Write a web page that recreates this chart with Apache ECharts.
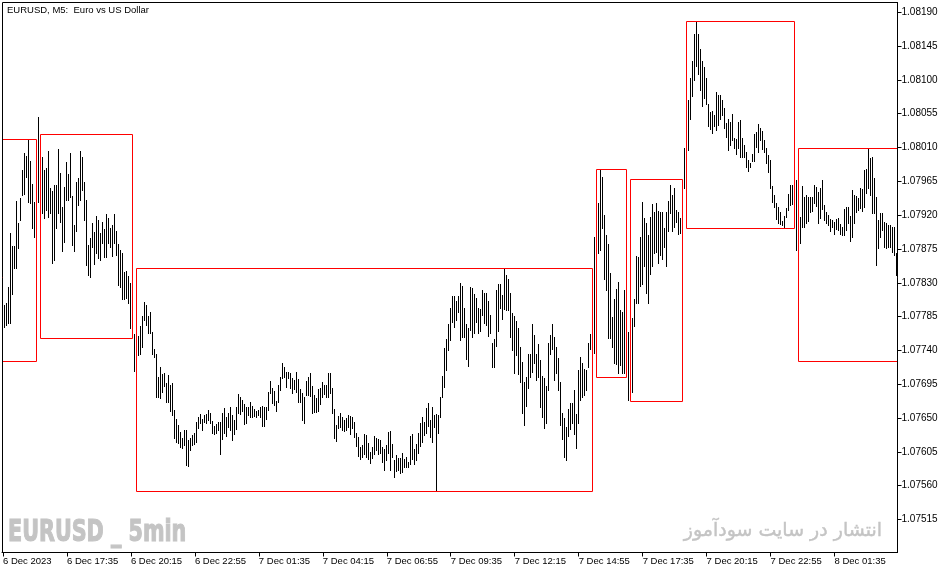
<!DOCTYPE html>
<html>
<head>
<meta charset="utf-8">
<script src="https://cdn.jsdelivr.net/npm/echarts@6/dist/echarts.min.js"></script>
<style>
html,body{margin:0;padding:0;background:#fff;}
#c{width:951px;height:574px;}
</style>
</head>
<body>
<div id="c"></div>
<script>
// ---- DATA ----
const startTime = '2023-12-06T14:55:00Z';
const barCount = 448;
const tickLabels = ['6 Dec 2023','6 Dec 17:35','6 Dec 20:15','6 Dec 22:55','7 Dec 01:35','7 Dec 04:15','7 Dec 06:55','7 Dec 09:35','7 Dec 12:15','7 Dec 14:55','7 Dec 17:35','7 Dec 20:15','7 Dec 22:55','8 Dec 01:35'];
const yTicks = [1.07515,1.07560,1.07605,1.07650,1.07695,1.07740,1.07785,1.07830,1.07875,1.07920,1.07965,1.08010,1.08055,1.08100,1.08145,1.08190];

const highs = [
null,1.07800,1.07802,1.07824,1.07896,1.07878,1.07878,1.07938,1.07909,1.07942,1.07979,1.08002,1.07998,1.08021,1.07991,1.07961,
1.07937,null,1.08050,null,1.07997,1.07979,1.07982,1.08005,1.07955,1.07951,1.07959,1.07959,1.08007,1.07975,1.07930,1.07957,
1.07990,1.07974,1.08002,1.07945,1.07906,1.07963,1.07969,1.08005,1.07997,1.07963,1.07939,1.07880,1.07889,1.07909,1.07897,1.07918,
1.07913,1.07896,1.07910,1.07901,1.07921,1.07916,1.07902,1.07906,1.07921,1.07898,1.07881,1.07873,1.07869,1.07844,1.07845,1.07838,
1.07829,null,1.07761,null,1.07758,1.07772,1.07785,1.07804,1.07800,1.07785,1.07790,1.07764,1.07741,1.07735,1.07704,1.07717,
1.07708,1.07709,1.07696,1.07707,1.07693,1.07696,1.07660,1.07648,1.07640,1.07631,1.07623,1.07633,1.07633,1.07620,1.07623,1.07627,
1.07629,1.07644,1.07651,1.07655,1.07648,1.07653,1.07655,1.07660,1.07656,1.07645,1.07639,1.07641,1.07644,1.07644,1.07656,1.07663,
1.07651,1.07656,1.07664,1.07653,1.07647,1.07664,1.07681,1.07677,1.07673,1.07668,1.07664,1.07664,1.07671,1.07665,1.07661,1.07659,
1.07660,1.07664,1.07665,1.07664,1.07664,1.07684,1.07699,1.07689,1.07685,1.07672,1.07693,1.07704,1.07723,1.07717,1.07711,1.07711,
1.07709,1.07703,1.07700,1.07711,1.07701,1.07688,1.07683,1.07677,1.07699,1.07704,1.07709,1.07692,1.07680,1.07676,1.07688,1.07689,
1.07697,1.07693,1.07693,1.07709,1.07709,1.07689,1.07661,1.07640,1.07652,1.07656,1.07651,1.07647,1.07649,1.07653,1.07652,1.07651,
1.07644,1.07629,1.07624,1.07611,1.07613,1.07628,1.07627,1.07616,1.07604,1.07611,1.07625,1.07623,1.07621,1.07620,1.07611,1.07608,
1.07613,1.07631,1.07632,1.07615,1.07593,1.07600,1.07596,1.07596,1.07603,1.07595,1.07597,1.07591,1.07625,1.07628,1.07608,1.07615,
1.07629,1.07643,1.07651,1.07644,1.07663,1.07669,1.07647,1.07664,1.07653,1.07655,1.07653,1.07677,1.07705,1.07743,1.07754,1.07774,
1.07796,1.07812,1.07812,1.07805,1.07812,1.07829,1.07825,1.07796,1.07774,1.07769,1.07824,1.07822,1.07814,1.07809,1.07796,1.07794,
1.07820,1.07816,1.07816,1.07805,1.07786,1.07749,1.07754,1.07820,1.07828,1.07828,1.07813,1.07849,1.07840,1.07834,1.07816,1.07789,
1.07785,1.07778,1.07769,1.07744,1.07724,1.07697,1.07704,1.07735,1.07735,1.07774,1.07760,1.07735,1.07748,1.07727,1.07705,1.07703,
1.07692,1.07749,1.07760,1.07774,1.07757,1.07744,1.07729,1.07697,1.07656,1.07649,1.07637,1.07661,1.07669,1.07669,1.07687,1.07655,
1.07713,1.07731,1.07723,1.07715,1.07713,1.07749,1.07761,null,1.07890,null,1.07935,1.07981,1.07970,1.07920,1.07893,1.07881,
1.07842,1.07784,1.07808,1.07821,1.07830,1.07793,1.07790,1.07820,null,1.07764,null,1.07782,1.07808,1.07865,1.07864,1.07890,
1.07937,1.07916,1.07909,1.07893,1.07917,1.07934,1.07924,1.07935,1.07925,1.07924,1.07924,1.07902,1.07924,1.07938,1.07959,1.07946,
1.07955,1.07926,1.07924,1.07916,null,1.08009,null,1.08073,1.08102,1.08124,1.08160,1.08176,1.08160,1.08140,1.08124,1.08116,
1.08102,1.08067,1.08057,1.08058,1.08053,1.08083,1.08079,1.08079,1.08073,1.08062,1.08042,1.08047,1.08043,1.08054,1.08022,1.08021,
1.08043,1.08046,1.08022,1.08013,1.08003,1.07993,1.07989,1.08001,1.08027,1.08030,1.08041,1.08035,1.08031,1.08019,1.08009,1.07999,
1.07993,1.07958,1.07946,1.07935,1.07930,1.07924,1.07912,1.07918,1.07929,1.07947,1.07959,1.07959,null,1.07966,null,1.07917,
1.07958,1.07943,1.07946,1.07943,1.07943,1.07943,1.07959,1.07957,1.07950,1.07955,1.07966,1.07933,1.07924,1.07920,1.07914,1.07913,
1.07910,1.07914,1.07916,1.07908,1.07904,1.07928,1.07930,1.07930,1.07918,1.07953,1.07946,1.07945,1.07942,1.07955,1.07954,1.07979,
1.07981,1.08009,1.07995,1.07997,1.07969,1.07943,1.07913,1.07922,1.07922,1.07910,1.07909,1.07906,1.07906,1.07904,1.07904,1.07869
];

const lows = [
null,1.07770,1.07773,1.07776,1.07776,1.07814,1.07849,1.07849,1.07876,1.07913,1.07946,1.07947,1.07970,1.07937,1.07935,1.07902,
1.07890,null,1.07937,null,1.07922,1.07916,1.07926,1.07917,1.07922,1.07856,1.07860,1.07902,1.07922,1.07910,1.07872,1.07884,
1.07939,1.07939,1.07943,1.07880,1.07872,1.07898,1.07933,1.07939,1.07953,1.07913,1.07853,1.07840,1.07837,1.07877,1.07854,1.07869,
1.07862,1.07860,1.07882,1.07864,1.07864,1.07882,1.07877,1.07865,1.07882,1.07866,1.07826,1.07824,1.07808,1.07808,1.07809,1.07802,
1.07769,null,1.07712,null,1.07733,1.07735,1.07744,1.07780,1.07773,1.07762,1.07762,1.07735,1.07731,1.07677,1.07677,1.07676,
1.07684,1.07692,1.07671,1.07671,1.07659,1.07653,1.07623,1.07617,1.07616,1.07611,1.07609,1.07613,1.07587,1.07585,1.07607,1.07613,
1.07615,1.07617,1.07636,1.07643,1.07633,1.07644,1.07643,1.07647,1.07643,1.07629,1.07628,1.07629,1.07633,1.07601,1.07621,1.07629,
1.07625,1.07637,1.07633,1.07620,1.07628,1.07635,1.07656,1.07655,1.07659,1.07641,1.07643,1.07653,1.07651,1.07651,1.07652,1.07651,
1.07653,1.07651,1.07639,1.07639,1.07648,1.07660,1.07683,1.07669,1.07667,1.07659,1.07671,1.07687,1.07703,1.07704,1.07691,1.07703,
1.07689,1.07683,1.07688,1.07684,1.07671,1.07671,1.07647,1.07643,1.07680,1.07680,1.07679,1.07656,1.07657,1.07657,1.07659,1.07668,
1.07677,1.07681,1.07677,1.07677,1.07683,1.07656,1.07623,1.07619,1.07636,1.07637,1.07633,1.07632,1.07633,1.07637,1.07628,1.07636,
1.07624,1.07612,1.07599,1.07595,1.07597,1.07601,1.07597,1.07595,1.07589,1.07596,1.07601,1.07607,1.07601,1.07603,1.07591,1.07580,
1.07593,1.07603,1.07580,1.07597,1.07571,1.07579,1.07580,1.07576,1.07577,1.07584,1.07584,1.07584,1.07588,1.07595,1.07588,1.07593,
1.07603,1.07612,1.07617,1.07627,1.07629,1.07639,1.07624,1.07617,1.07637,1.07554,1.07629,1.07651,1.07677,1.07691,1.07713,1.07740,
1.07753,1.07777,1.07770,1.07780,1.07790,1.07753,1.07757,1.07757,1.07728,1.07719,1.07766,1.07757,1.07762,1.07777,1.07762,1.07765,
1.07786,1.07776,1.07773,1.07758,1.07762,1.07717,1.07717,1.07745,1.07765,1.07796,1.07781,1.07794,1.07793,1.07793,1.07757,1.07740,
1.07709,1.07733,1.07708,1.07697,1.07656,1.07640,1.07665,1.07689,1.07704,1.07711,1.07723,1.07700,1.07704,1.07664,1.07651,1.07636,
1.07643,1.07687,1.07735,1.07741,1.07700,1.07709,1.07687,1.07640,1.07621,1.07597,1.07593,1.07625,1.07635,1.07643,1.07628,1.07609,
1.07643,1.07673,1.07677,1.07680,1.07687,1.07717,1.07741,null,1.07736,null,1.07869,1.07873,1.07902,1.07834,1.07820,1.07756,
1.07756,1.07744,1.07723,1.07721,1.07709,1.07720,1.07709,1.07709,null,1.07673,null,1.07684,1.07772,1.07802,1.07802,1.07825,
1.07828,1.07852,1.07816,1.07802,1.07841,1.07852,1.07869,1.07870,1.07856,1.07866,1.07861,1.07877,1.07852,1.07898,1.07922,1.07898,
1.07904,1.07910,1.07894,1.07896,null,1.07955,null,1.08006,1.08047,1.08078,1.08099,1.08118,1.08107,1.08086,1.08065,1.08075,
1.08067,1.08038,1.08034,1.08029,1.08038,1.08033,1.08039,1.08047,1.08053,1.08035,1.08023,1.08006,1.08013,1.08019,1.08009,1.08001,
1.08009,1.07997,1.07997,1.07997,1.07983,1.07978,1.07983,1.07991,1.07991,1.08010,1.08003,1.08019,1.08007,1.08003,1.07989,1.07977,
1.07955,1.07937,1.07930,1.07914,1.07909,1.07908,1.07906,1.07902,1.07917,1.07926,1.07933,1.07934,null,1.07873,null,1.07882,
1.07904,1.07904,1.07909,1.07912,1.07924,1.07925,1.07935,1.07931,1.07909,1.07916,1.07928,1.07913,1.07909,1.07906,1.07898,1.07904,
1.07894,1.07901,1.07900,1.07894,1.07893,1.07893,1.07900,1.07909,1.07885,1.07890,1.07909,1.07924,1.07926,1.07929,1.07925,1.07930,
1.07949,1.07955,1.07946,1.07922,1.07922,1.07853,1.07876,1.07890,1.07900,1.07877,1.07876,1.07877,1.07877,1.07870,1.07866,1.07840
];

// red range boxes: first bar index, last bar index, upper price, lower price
const boxStart = [0, 19, 67, 297, 314, 342, 398];
const boxEnd   = [17, 65, 295, 312, 340, 396, 448];
const boxHigh  = [1.08021, 1.08027, 1.07849, 1.07981, 1.07967, 1.08178, 1.08009];
const boxLow   = [1.07725, 1.07756, 1.07552, 1.07704, 1.07672, 1.07902, 1.07725];

// ---- BUILD ----
const categories = [];
{
  const t0 = new Date(startTime).getTime();
  const mon = ['Jan','Feb','Mar','Apr','May','Jun','Jul','Aug','Sep','Oct','Nov','Dec'];
  for (let i = 0; i < barCount; i++) {
    const d = new Date(t0 + i * 300000);
    const hh = String(d.getUTCHours()).padStart(2,'0');
    const mm = String(d.getUTCMinutes()).padStart(2,'0');
    categories.push(d.getUTCDate() + ' ' + mon[d.getUTCMonth()] + ' ' + hh + ':' + mm);
  }
}
const barData = [];
for (let i = 0; i < barCount; i++) {
  if (highs[i] != null && lows[i] != null) barData.push([i, highs[i], lows[i]]);
}
const boxData = boxStart.map((s, k) => [s, boxEnd[k], boxHigh[k], boxLow[k]]);

// snap to pixel centres so 1px strokes stay crisp
const snap = (v) => Math.round(v - 0.5) + 0.5;

const FONT = 'Liberation Sans';
const chart = echarts.init(document.getElementById('c'), null, {renderer: 'canvas'});
chart.setOption({
  animation: false,
  backgroundColor: '#ffffff',
  title: {
    text: 'EURUSD, M5:  Euro vs US Dollar',
    left: 7, top: 5, padding: 0,
    textStyle: {fontFamily: FONT, fontSize: 9.5, fontWeight: 'normal', color: '#000'}
  },
  grid: {left: 1.5, top: 2.5, width: 896, height: 550, show: false},
  xAxis: {
    type: 'category',
    data: categories,
    boundaryGap: true,
    axisLine: {show: true, lineStyle: {color: '#000', width: 1}},
    axisTick: {show: true, alignWithLabel: true, length: 4, interval: (i) => i % 32 === 0, lineStyle: {color: '#000'}},
    axisLabel: {
      show: true,
      interval: (i) => i % 32 === 0,
      formatter: (v, i) => tickLabels[Math.round(i / 32)] || '',
      align: 'left', margin: 4,
      fontFamily: FONT, fontSize: 9.5, color: '#000'
    },
    splitLine: {show: false}
  },
  yAxis: {
    type: 'value',
    position: 'right',
    min: 1.07471, max: 1.08203,
    scale: true,
    axisLine: {show: true, lineStyle: {color: '#000', width: 1}},
    axisTick: {show: true, length: 4, customValues: yTicks, lineStyle: {color: '#000'}},
    axisLabel: {
      show: true, customValues: yTicks,
      formatter: (v) => Number(v).toFixed(5),
      margin: 4, fontFamily: FONT, fontSize: 10, color: '#000'
    },
    splitLine: {show: false}
  },
  graphic: [
    {type: 'rect', silent: true, z: 100,
     shape: {x: 2.5, y: 2.5, width: 895, height: 550},
     style: {fill: null, stroke: '#000', lineWidth: 1}},
    {type: 'text', silent: true, x: 8, y: 518, scaleX: 0.69, z: 1,
     style: {text: 'EURUSD _ 5min', font: 'bold 30px "DejaVu Sans"', fill: '#c4c4c4', stroke: '#c4c4c4', lineWidth: 1.2, textVerticalAlign: 'top'}},
    {type: 'text', silent: true, x: 882, y: 531, z: 1,
     style: {text: 'انتشار در سایت سودآموز', font: '19px "DejaVu Sans"', fill: '#c4c4c4', stroke: '#c4c4c4', lineWidth: 0.4, textAlign: 'right', textVerticalAlign: 'middle'}}
  ],
  series: [
    {
      type: 'custom',
      name: 'EURUSD',
      data: barData,
      encode: {x: 0, y: [1, 2]},
      clip: true,
      z: 2,
      renderItem: function (params, api) {
        const i = api.value(0);
        const p1 = api.coord([i, api.value(1)]);
        const p2 = api.coord([i, api.value(2)]);
        const x = snap(p1[0]);
        return {
          type: 'line', silent: true,
          shape: {x1: x, y1: snap(p1[1]), x2: x, y2: snap(p2[1])},
          style: {stroke: '#000', lineWidth: 1, lineCap: 'square'}
        };
      }
    },
    {
      type: 'custom',
      name: 'Ranges',
      data: boxData,
      encode: {x: [0, 1], y: [2, 3]},
      clip: true,
      z: 3,
      renderItem: function (params, api) {
        const a = api.coord([api.value(0), api.value(2)]);
        const b = api.coord([api.value(1), api.value(3)]);
        const x0 = snap(a[0]), y0 = snap(a[1]), x1 = snap(b[0]), y1 = snap(b[1]);
        return {
          type: 'rect', silent: true,
          shape: {x: x0, y: y0, width: x1 - x0, height: y1 - y0},
          style: {fill: null, stroke: '#ff0000', lineWidth: 1}
        };
      }
    }
  ]
});
</script>
</body>
</html>
